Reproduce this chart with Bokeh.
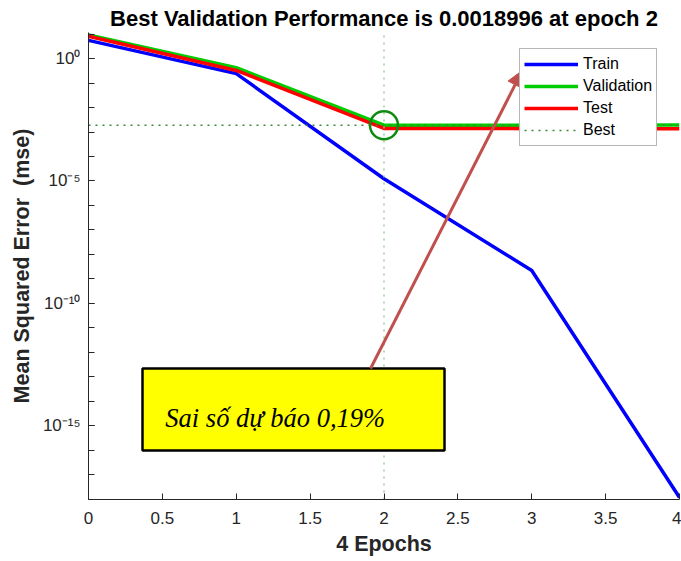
from bokeh.plotting import figure
from bokeh.models import (FixedTicker, CustomJSTickFormatter, Legend, LegendItem,
                          BoxAnnotation, Label, Arrow, NormalHead)
from bokeh.embed import file_html
from bokeh.resources import INLINE

# ---------------- data ----------------
epochs = [0, 1, 2, 3, 4]
train_mse = [5.6, 0.244, 1.23e-5, 2.2e-9, 1.15e-18]
validation_mse = [9.4, 0.43, 0.0018996, 0.00192, 0.00193]
test_mse = [8.2, 0.33, 0.0014, 0.00138, 0.00138]
best_epoch = 2
best_perf = 0.0018996

x_ticks = [0, 0.5, 1, 1.5, 2, 2.5, 3, 3.5, 4]
x_tick_labels = ["0", "0.5", "1", "1.5", "2", "2.5", "3", "3.5", "4"]
y_ticks = [1e0, 1e-5, 1e-10, 1e-15]
y_tick_labels = ["10⁰", "10⁻⁵", "10⁻¹⁰", "10⁻¹⁵"]
y_minor_ticks = [10.0 ** k for k in range(-18, 2)]

title_text = "Best Validation Performance is 0.0018996 at epoch 2"
x_label_text = "4 Epochs"
y_label_text = "Mean Squared Error \u00a0(mse)"
note_text = "Sai số dự báo 0,19%"

y_lo, y_hi = 10 ** -18.02, 10 ** 1.07

SANS = "Liberation Sans"
AXC = "#262626"

p = figure(width=681, height=561, x_range=(0, 4), y_range=(y_lo, y_hi),
           y_axis_type="log", output_backend="svg", toolbar_location=None,
           min_border_left=88, min_border_right=2, min_border_top=32,
           min_border_bottom=62)
p.outline_line_color = None
p.grid.visible = False
p.background_fill_color = "white"
p.border_fill_color = "white"

p.title.text = title_text
p.title.text_font = SANS
p.title.text_font_style = "bold"
p.title.text_font_size = "22px"
p.title.text_color = "black"
p.title.align = "center"
p.title.standoff = 3

# x axis
xa = p.xaxis[0]
xa.ticker = FixedTicker(ticks=x_ticks, minor_ticks=[])
xa.formatter = CustomJSTickFormatter(args=dict(vals=x_ticks, labs=x_tick_labels), code="""
for (let i = 0; i < vals.length; i++) { if (Math.abs(tick - vals[i]) < 1e-9) return labs[i]; }
return '';
""")
xa.major_tick_in = 6
xa.major_tick_out = 0
xa.minor_tick_in = 0
xa.minor_tick_out = 0
xa.axis_line_color = AXC
xa.major_tick_line_color = AXC
xa.major_label_text_font = SANS
xa.major_label_text_font_size = "17px"
xa.major_label_text_color = AXC
xa.major_label_standoff = 12
xa.axis_label = x_label_text
xa.axis_label_text_font = SANS
xa.axis_label_text_font_style = "bold"
xa.axis_label_text_font_size = "21.5px"
xa.axis_label_text_color = AXC
xa.axis_label_standoff = 5

# y axis
ya = p.yaxis[0]
ya.ticker = FixedTicker(ticks=y_ticks, minor_ticks=y_minor_ticks)
ya.formatter = CustomJSTickFormatter(args=dict(vals=y_ticks, labs=y_tick_labels), code="""
for (let i = 0; i < vals.length; i++) { if (Math.abs(Math.log10(tick) - Math.log10(vals[i])) < 1e-6) return labs[i]; }
return '';
""")
ya.major_tick_in = 6
ya.major_tick_out = 0
ya.minor_tick_in = 6
ya.minor_tick_out = 0
ya.axis_line_color = AXC
ya.major_tick_line_color = AXC
ya.minor_tick_line_color = AXC
ya.major_label_text_font = SANS
ya.major_label_text_font_size = "17px"
ya.major_label_text_color = AXC
ya.major_label_standoff = 8
ya.axis_label = y_label_text
ya.axis_label_text_font = SANS
ya.axis_label_text_font_style = "bold"
ya.axis_label_text_font_size = "21.5px"
ya.axis_label_text_color = AXC
ya.axis_label_standoff = 6

# data lines
r_train = p.line(epochs, train_mse, line_color="#0000ff", line_width=3.5)
r_val = p.line(epochs, validation_mse, line_color="#00cc00", line_width=3.5)
r_test = p.line(epochs, test_mse, line_color="#ff0000", line_width=3.5)

# best markers
p.line([best_epoch, best_epoch], [y_lo, y_hi], line_color="#88cc88",
       line_width=1.3, line_dash="2 5")
r_best = p.line([0, 4], [best_perf, best_perf], line_color="#3a8a3a",
                line_width=1.3, line_dash="2 5")
p.scatter([best_epoch], [best_perf], marker="circle", size=28, fill_color=None,
          line_color="#108a10", line_width=2.5)

legend = Legend(items=[LegendItem(label="Train", renderers=[r_train]),
                       LegendItem(label="Validation", renderers=[r_val]),
                       LegendItem(label="Test", renderers=[r_test]),
                       LegendItem(label="Best", renderers=[r_best])],
                location=(431, 353), margin=0, padding=4, spacing=0,
                glyph_width=54, glyph_height=22, label_height=22,
                label_standoff=5, label_text_font=SANS,
                label_text_font_size="16px", label_text_color="#000000",
                border_line_color="#6f6f6f", border_line_width=1,
                background_fill_color="white", background_fill_alpha=1)
p.add_layout(legend)

# annotation box, text and arrow
box = BoxAnnotation(left=0.3655, right=2.4095, bottom=10 ** -16.02, top=10 ** -12.667,
                    fill_color="#ffff00", fill_alpha=1, line_color="black",
                    line_alpha=1, line_width=2.5, level="annotation")
p.add_layout(box)
p.add_layout(Label(x=0.52, y=10 ** -14.67, text=note_text, text_font="Liberation Serif",
                   text_font_style="italic", text_font_size="26.5px", text_color="black",
                   text_baseline="alphabetic", text_align="left"))
p.add_layout(Arrow(end=NormalHead(size=16, fill_color="#c0504d", line_color="#c0504d"),
                   x_start=1.909, y_start=10 ** -12.667, x_end=2.937, y_end=10 ** -0.48,
                   line_color="#c0504d", line_width=3))

open("out.html", "w").write(file_html(p, INLINE))
